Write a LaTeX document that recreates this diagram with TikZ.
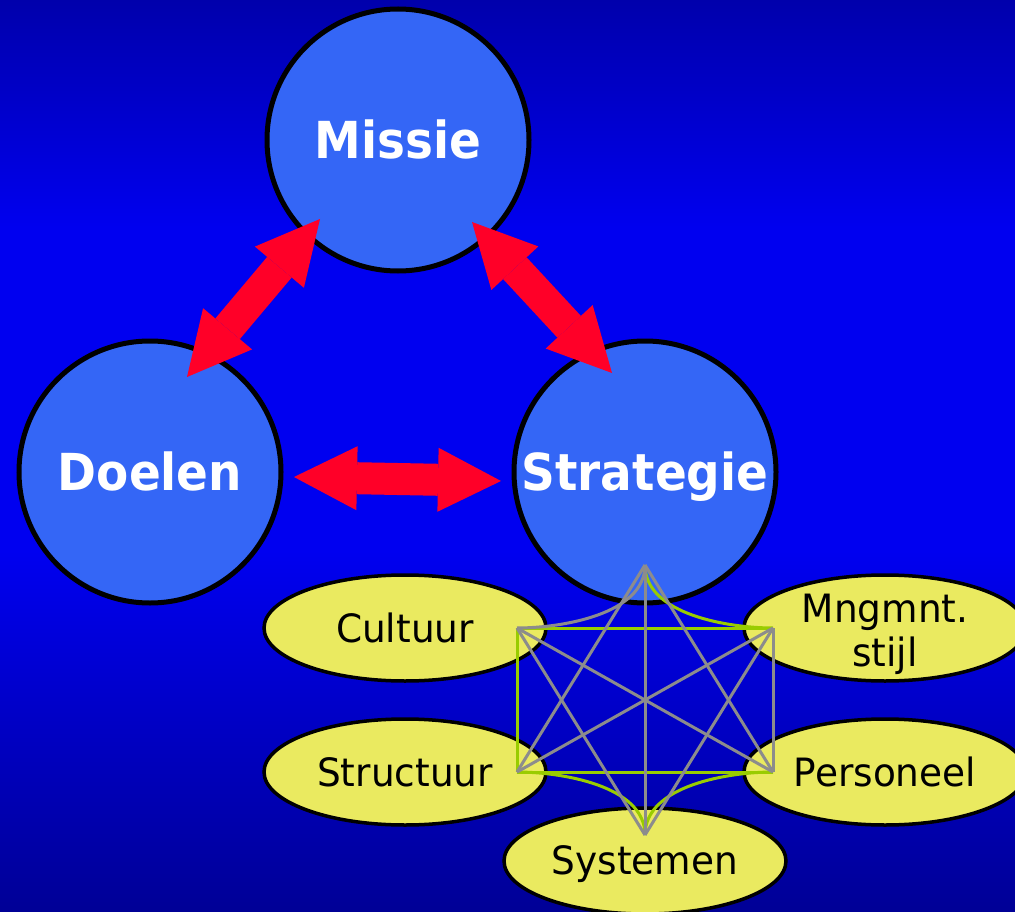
\documentclass[tikz,border=0pt]{standalone}
\usepackage{fontspec}
\usetikzlibrary{shapes.geometric,arrows.meta}
\newfontfamily\diagsans[FakeStretch=0.96]{DejaVu Sans}
\newfontfamily\diagbold[FakeStretch=0.92]{DejaVu Sans}
\definecolor{bgtop}{RGB}{0,0,172}
\definecolor{bgmid}{RGB}{0,0,240}
\definecolor{bgbot}{RGB}{0,0,150}
\definecolor{circfill}{RGB}{52,102,246}
\definecolor{ellfill}{RGB}{234,234,96}
\definecolor{arrred}{RGB}{255,0,40}
\definecolor{lgray}{RGB}{140,140,140}
\definecolor{lgreen}{RGB}{153,204,0}
\tikzset{
  bigcirc/.style={circle, draw=black, line width=5pt, fill=circfill, minimum size=262pt,
    inner sep=0pt, text=white, font=\diagbold\bfseries\fontsize{51}{56}\selectfont,
    text height=37pt, text depth=0pt},
  smallell/.style={ellipse, draw=black, line width=3.5pt, fill=ellfill, minimum width=282pt,
    minimum height=106pt, inner sep=0pt},
  elltext/.style={inner sep=0pt, text=black, font=\diagsans\fontsize{39}{44}\selectfont,
    text height=28.4pt, text depth=0pt},
  redarrow/.style={draw=arrred, line width=32pt,
    arrows={Triangle[length=63pt,width=64pt,line width=0pt]-Triangle[length=63pt,width=64pt,line width=0pt]}},
  glin/.style={draw=lgray, line width=3pt},
  grln/.style={draw=lgreen, line width=3pt}
}
\begin{document}
\begin{tikzpicture}[x=1pt,y=-1pt]
\useasboundingbox (0,0) rectangle (1015,912);
% background
\fill[top color=bgtop,bottom color=bgmid] (0,0) rectangle (1015,231);
\fill[bgmid] (0,230) rectangle (1015,551);
\fill[top color=bgmid,bottom color=bgbot] (0,550) rectangle (1015,912);
% circles
\node[bigcirc] (missie) at (398,140) {Missie};
\node[bigcirc] (doelen) at (150,472) {Doelen};
\node[bigcirc] (strategie) at (645,472) {Strategie};
% ellipses
\node[smallell] (cultuur) at (405,628) {};
\node[smallell] (mngmnt) at (885,628) {};
\node[smallell] (structuur) at (405,772) {};
\node[smallell] (personeel) at (885,772) {};
\node[smallell] (systemen) at (645,861) {};
\node[elltext] (cultuurtxt) at (cultuur.center) {Cultuur};
\node[elltext, align=center, anchor=north, text height=, text depth=] (mngmnttxt) at (885,594) {Mngmnt.\\stijl};
\node[elltext] (structuurtxt) at (structuur.center) {Structuur};
\node[elltext] (personeeltxt) at (personeel.center) {Personeel};
\node[elltext] (systementxt) at (645,860) {Systemen};
% network of lines
\coordinate (pT) at (645,565);
\coordinate (pB) at (645,835);
\coordinate (cTL) at (517,628);
\coordinate (cTR) at (773,628);
\coordinate (cBL) at (517,772);
\coordinate (cBR) at (773,772);
\draw[grln] (cTL) -- (cTR);
\draw[grln] (cTL) -- (cBL);
\draw[grln] (cBL) -- (cBR);
\draw[grln] (pT) .. controls (645,615) and (730,628) .. (cTR);
\draw[grln] (pB) .. controls (645,785) and (560,772) .. (cBL);
\draw[grln] (pB) .. controls (645,785) and (730,772) .. (cBR);
\draw[glin] (pT) .. controls (645,615) and (560,628) .. (cTL);
\draw[glin] (cTR) -- (cBR);
\draw[glin] (pT) -- (pB);
\draw[glin] (pT) -- (cBL);
\draw[glin] (pT) -- (cBR);
\draw[glin] (pB) -- (cTL);
\draw[glin] (pB) -- (cTR);
\draw[glin] (cTL) -- (cBR);
\draw[glin] (cTR) -- (cBL);
% red double arrows
\coordinate (hA) at (294,477);
\coordinate (hB) at (501,481);
\coordinate (lA) at (320,219);
\coordinate (lB) at (187,377);
\coordinate (rA) at (472,222);
\coordinate (rB) at (612,373);
\draw[redarrow] (hA) -- (hB);
\draw[redarrow] (lA) -- (lB);
\draw[redarrow] (rA) -- (rB);
\end{tikzpicture}
\end{document}
